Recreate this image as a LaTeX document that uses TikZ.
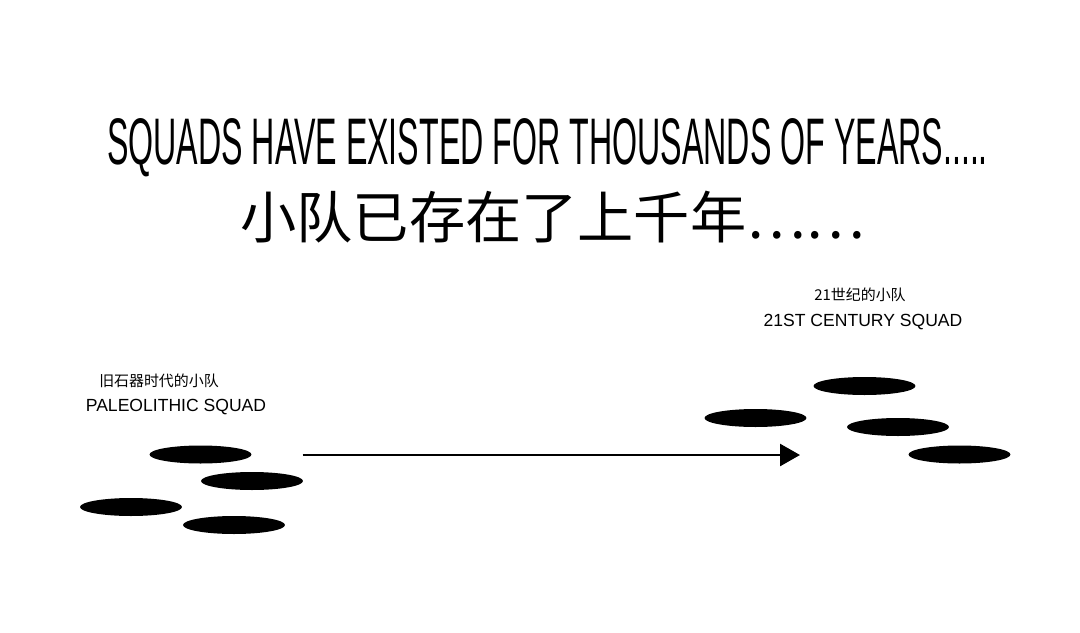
\documentclass[tikz,border=0pt]{standalone}
\usepackage{graphicx}
\usepackage{fontspec}
\setmainfont{Liberation Sans}
\newfontfamily\cjk{Noto Sans CJK SC}
\usetikzlibrary{arrows.meta, shapes.geometric}

\begin{document}
\begin{tikzpicture}[x=0.02cm, y=-0.02cm,
  squad/.style={ellipse, fill=black, inner sep=0pt, minimum width=2.04cm, minimum height=0.36cm},
  label/.style={inner sep=0pt, font=\fontsize{10}{12}\selectfont},
  cnlabel/.style={inner sep=0pt, font=\cjk\fontsize{8.5}{10}\selectfont},
  arr/.style={-{Triangle[length=0.4cm, width=0.44cm]}, line width=1.5pt}
]
\useasboundingbox (0,0) rectangle (1080,633);

% Title lines
\node[inner sep=0pt, anchor=base] (title) at (547.5,164)
  {\resizebox{17.62cm}{0.92cm}{SQUADS HAVE EXISTED FOR THOUSANDS OF YEARS.....}};
\node[inner sep=0pt, anchor=west, font=\cjk\fontsize{32}{38}\selectfont] (subtitle) at (240,217)
  {小队已存在了上千年……};

% Paleolithic squad
\node[cnlabel] (oldcn) at (159,381) {旧石器时代的小队};
\node[label] (olden) at (176,407) {PALEOLITHIC SQUAD};
\foreach \i/\x/\y in {1/200.5/454.5, 2/252/481, 3/131/507, 4/234/525}{
  \node[squad] (p\i) at (\x,\y) {};
}

% 21st century squad
\node[cnlabel] (newcn) at (860,295) {21世纪的小队};
\node[label] (newen) at (863,322) {21ST CENTURY SQUAD};
\foreach \i/\x/\y in {1/864.5/386, 2/755.5/418, 3/898/427, 4/959.5/454.5}{
  \node[squad] (c\i) at (\x,\y) {};
}

% Arrow between them
\coordinate (arrstart) at (302.7,455);
\coordinate (arrend) at (800,455);
\draw[arr] (arrstart) -- (arrend);

\end{tikzpicture}
\end{document}
